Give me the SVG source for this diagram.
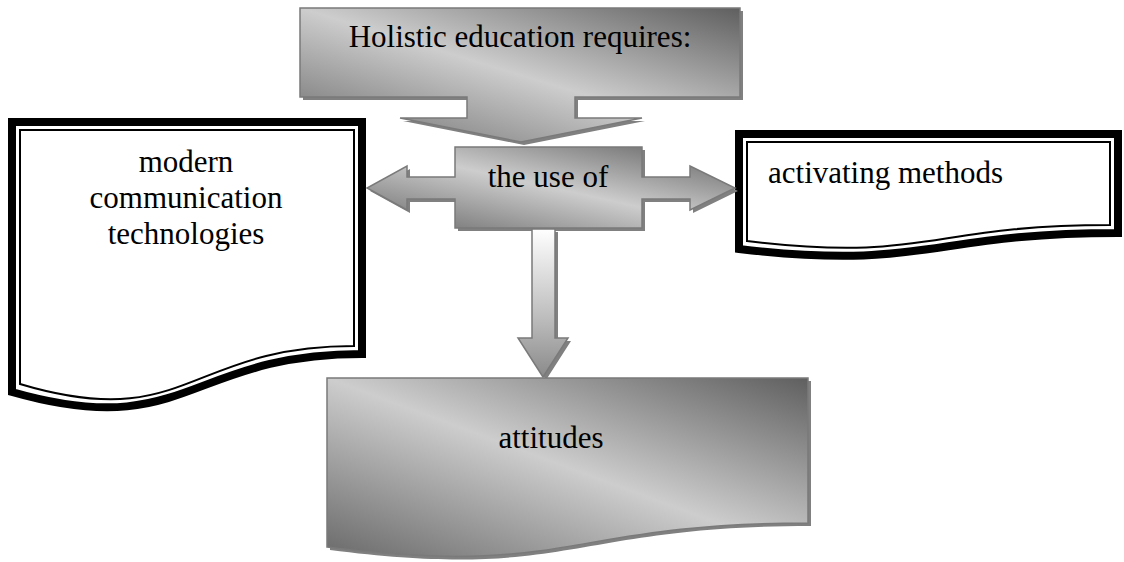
<svg xmlns="http://www.w3.org/2000/svg" width="1124" height="562" viewBox="0 0 1124 562">
<defs>
<linearGradient id="g" x1="1" y1="0" x2="0" y2="1">
<stop offset="0" stop-color="#5f5f5f"/>
<stop offset="0.5" stop-color="#cdcdcd"/>
<stop offset="1" stop-color="#6a6a6a"/>
</linearGradient>
<linearGradient id="gd" x1="0" y1="0" x2="0" y2="1">
<stop offset="0" stop-color="#ffffff"/>
<stop offset="0.6" stop-color="#bdbdbd"/>
<stop offset="1" stop-color="#8a8a8a"/>
</linearGradient>
<style>
.t{font-family:"Liberation Serif","Times New Roman",serif;font-size:31px;fill:#000}
.m{text-anchor:middle}
.sh{fill:#808080}
.gr{fill:url(#g);stroke:#7a7a7a;stroke-width:1.5}
.thick{fill:#fff;stroke:#000;stroke-width:8}
.thin{fill:none;stroke:#000;stroke-width:2}
</style>
</defs>
<rect width="1124" height="562" fill="#fff"/>

<g id="node-modern">
<path class="thick" d="M12,122 H362 V354 C187,354 187,442 12,392 Z"/>
<path class="thin" d="M20,130 H354 V346 C187,346 187,434 20,384 Z"/>
<text class="t m" x="186" y="172">modern</text>
<text class="t m" x="186" y="208">communication</text>
<text class="t m" x="186" y="244">technologies</text>
</g>

<g id="node-activating">
<path class="thick" d="M739,134 H1118 V233 C928,233 928,271 739,249 Z"/>
<path class="thin" d="M747,142 H1110 V225 C928,225 928,263 747,241 Z"/>
<text class="t" x="768" y="183">activating methods</text>
</g>

<g id="node-holistic">
<path class="sh" transform="translate(3,3)" d="M300,8 H740 V97 H575 V118 H642 L521,142 L400,118 H467 V97 H300 Z"/>
<path class="gr" d="M300,8 H740 V97 H575 V118 H642 L521,142 L400,118 H467 V97 H300 Z"/>
<text class="t m" x="520" y="47">Holistic education requires:</text>
</g>

<g id="node-useof">
<path class="sh" transform="translate(3,3)" d="M455,147 H642 V177 H690 V166 L735,188 L690,210 V199 H642 V228 H455 V199 H407 V210 L367,188 L407,166 V177 H455 Z"/>
<path class="gr" d="M455,147 H642 V177 H690 V166 L735,188 L690,210 V199 H642 V228 H455 V199 H407 V210 L367,188 L407,166 V177 H455 Z"/>
<text class="t m" x="548" y="187">the use of</text>
</g>

<g id="connectors">
<path class="sh" transform="translate(3,3)" d="M532,229 H555 V338 H568 L543,377 L518,338 H532 Z"/>
<path d="M532,229 H555 V338 H568 L543,377 L518,338 H532 Z" fill="url(#gd)" stroke="#7a7a7a" stroke-width="1.5"/>
</g>

<g id="node-attitudes">
<path class="sh" transform="translate(3,3)" d="M327,378 H808 V523 C567,523 567,578 327,547 Z"/>
<path class="gr" d="M327,378 H808 V523 C567,523 567,578 327,547 Z"/>
<text class="t m" x="551" y="448">attitudes</text>
</g>
</svg>
